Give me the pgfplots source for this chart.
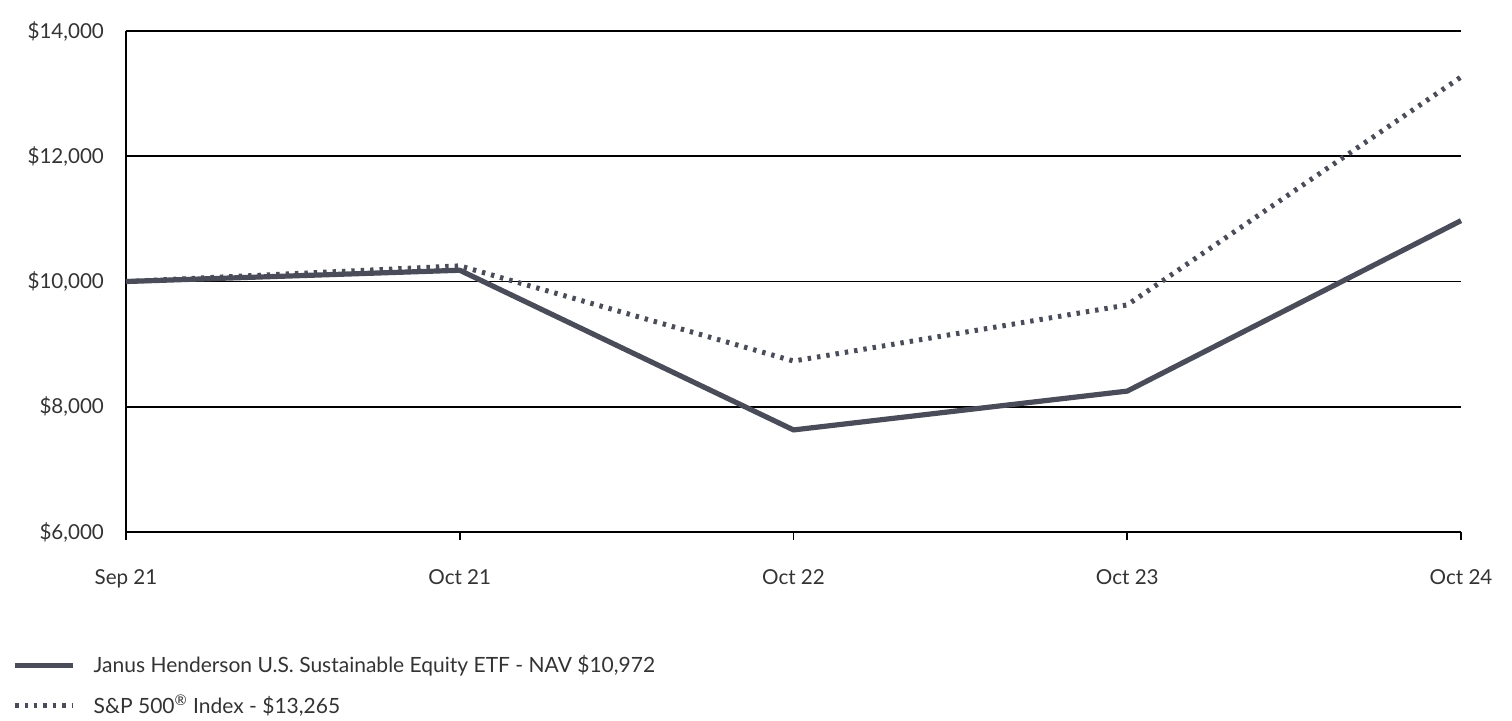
\documentclass[border=0pt]{standalone}
\usepackage{fontspec}
\setmainfont{Lato}
\usepackage{pgfplots}
\pgfplotsset{compat=1.18}
\definecolor{serie}{HTML}{4A4D59}
\definecolor{txt}{HTML}{333333}
\begin{document}
\begin{tikzpicture}
\useasboundingbox (0,0) rectangle (756pt,360pt);
\begin{axis}[
  at={(63pt,94pt)}, anchor=south west,
  scale only axis, width=667.5pt, height=250.5pt,
  xmin=0, xmax=4, ymin=6000, ymax=14000,
  xtick={0,1,2,3,4},
  xticklabels={Sep 21, Oct 21, Oct 22, Oct 23, Oct 24},
  ytick={6000,8000,10000,12000,14000},
  yticklabels={{\$6,000},{\$8,000},{\$10,000},{\$12,000},{\$14,000}},
  scaled y ticks=false,
  axis x line=bottom, axis y line=left,
  x axis line style={-, line width=0.8pt},
  y axis line style={-, line width=0.8pt},
  ymajorgrids, grid style={black, line width=0.8pt},
  xtick align=outside, major tick length=4pt,
  xtick style={black, line width=0.8pt},
  ytick style={draw=none},
  xticklabel style={font=\fontsize{10.3}{12}\selectfont, text=txt, yshift=-11.5pt},
  yticklabel style={font=\fontsize{10.3}{12}\selectfont, text=txt, xshift=-5.5pt},
  clip=false,
  legend style={at={(-0.0853,-0.237)}, anchor=north west, draw=none, fill=none,
    font=\fontsize{10.5}{12.6}\selectfont, text=txt, inner sep=0pt, row sep=5.8pt,
    cells={anchor=west},
    /tikz/every odd column/.append style={column sep=7pt}},
  legend image code/.code={\draw[#1] (0pt,0pt) -- (29pt,0pt);},
]
\addplot[serie, line width=2.6pt, line join=round] coordinates {
  (0,10000) (1,10180) (2,7630) (3,8250) (4,10972)};
\addlegendentry{Janus Henderson U.S. Sustainable Equity ETF - NAV \$10,972}
\addplot[serie, line width=2.5pt, dash pattern=on 1.7pt off 3pt] coordinates {
  (0,10000) (1,10250) (2,8730) (3,9626) (4,13265)};
\addlegendentry{S\&P 500\textsuperscript{®} Index - \$13,265}
\end{axis}
\end{tikzpicture}
\end{document}
